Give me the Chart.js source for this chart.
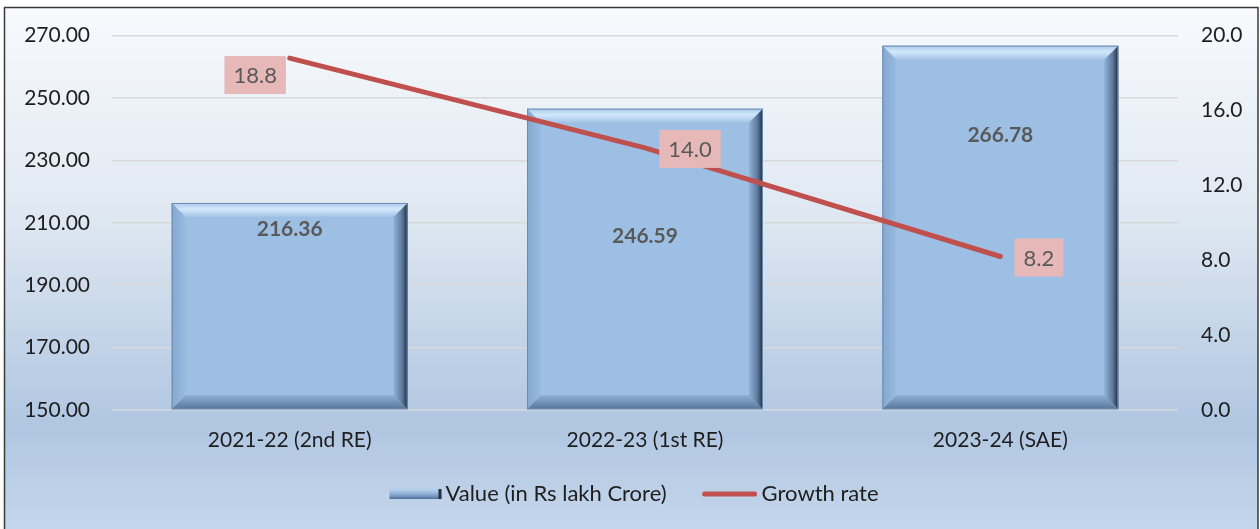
<!DOCTYPE html>
<html>
<head>
<meta charset="utf-8">
<script src="https://cdn.jsdelivr.net/npm/chart.js@4/dist/chart.umd.min.js"></script>
<style>
  html, body { margin: 0; padding: 0; background: #ffffff; }
  #wrap { position: absolute; left: 0; top: 0; width: 1260px; height: 529px; }
</style>
</head>
<body>
<div id="wrap"><canvas id="c" width="1260" height="529"></canvas></div>
<script>
const categories = ['2021-22 (2nd RE)', '2022-23 (1st RE)', '2023-24 (SAE)'];
const valueSeries = [216.36, 246.59, 266.78];
const growthSeries = [18.8, 14.0, 8.2];
const leftTicks = [150, 170, 190, 210, 230, 250, 270];
const rightTicks = [0, 4, 8, 12, 16, 20];
const seriesNames = ['Value (in Rs lakh Crore)', 'Growth rate'];

const FONT = 'Lato, "Open Sans", sans-serif';
const TXT = '#1e1e1e';
const LBL = '#595959';

const backgroundPlugin = {
  id: 'bg',
  beforeDraw(chart) {
    const ctx = chart.ctx;
    ctx.save();
    ctx.fillStyle = '#ffffff';
    ctx.fillRect(0, 0, chart.width, chart.height);
    const g = ctx.createLinearGradient(0, 7, 0, 529);
    g.addColorStop(0, '#f8fafd');
    g.addColorStop(0.4, '#dfe8f2');
    g.addColorStop(0.8, '#b0c6e1');
    g.addColorStop(1, '#c4d6eb');
    ctx.fillStyle = g;
    ctx.fillRect(5, 8, 1253, 530);
    ctx.strokeStyle = '#3a3a3a';
    ctx.lineWidth = 1.5;
    ctx.strokeRect(4.5, 7.5, 1253.5, 540);
    ctx.restore();
  }
};

function drawBevel(ctx, l, t, r, b, s) {
  let g = ctx.createLinearGradient(0, t, 0, t + s);
  g.addColorStop(0, '#a9c9ea');
  g.addColorStop(0.45, '#d2e8fb');
  g.addColorStop(1, '#a3c3e6');
  ctx.fillStyle = g;
  ctx.beginPath();
  ctx.moveTo(l, t); ctx.lineTo(r, t); ctx.lineTo(r - s, t + s); ctx.lineTo(l + s, t + s); ctx.closePath();
  ctx.fill();
  g = ctx.createLinearGradient(l, 0, l + s, 0);
  g.addColorStop(0, '#86a8d0');
  g.addColorStop(1, '#98bbe1');
  ctx.fillStyle = g;
  ctx.beginPath();
  ctx.moveTo(l, t); ctx.lineTo(l + s, t + s); ctx.lineTo(l + s, b - s); ctx.lineTo(l, b); ctx.closePath();
  ctx.fill();
  g = ctx.createLinearGradient(0, b - s, 0, b);
  g.addColorStop(0, '#8eafd5');
  g.addColorStop(1, '#58769a');
  ctx.fillStyle = g;
  ctx.beginPath();
  ctx.moveTo(l, b); ctx.lineTo(r, b); ctx.lineTo(r - s, b - s); ctx.lineTo(l + s, b - s); ctx.closePath();
  ctx.fill();
  g = ctx.createLinearGradient(r - s, 0, r, 0);
  g.addColorStop(0, '#90b1d7');
  g.addColorStop(0.6, '#5d7a9d');
  g.addColorStop(1, '#1f2b38');
  ctx.fillStyle = g;
  ctx.beginPath();
  ctx.moveTo(r, t); ctx.lineTo(r, b); ctx.lineTo(r - s, b - s); ctx.lineTo(r - s, t + s); ctx.closePath();
  ctx.fill();
  ctx.strokeStyle = '#6b8bb1';
  ctx.lineWidth = 1;
  ctx.strokeRect(l + 0.5, t + 0.5, r - l - 1, b - t - 1);
}

const bevelPlugin = {
  id: 'bevel',
  afterDatasetDraw(chart, args) {
    if (args.index !== 0) return;
    const ctx = chart.ctx;
    ctx.save();
    args.meta.data.forEach(bar => {
      const l = bar.x - bar.width / 2, r = bar.x + bar.width / 2;
      const t = bar.y, b = Math.min(bar.base, chart.chartArea.bottom);
      drawBevel(ctx, l, t, r, b, 14);
    });
    ctx.restore();
  }
};

const labelPlugin = {
  id: 'labels',
  afterDatasetsDraw(chart) {
    const ctx = chart.ctx;
    ctx.save();
    const barOffsets = [26, 128, 90];
    const barMeta = chart.getDatasetMeta(0);
    ctx.font = 'bold 21px ' + FONT;
    ctx.fillStyle = LBL;
    ctx.textAlign = 'center';
    ctx.textBaseline = 'middle';
    barMeta.data.forEach((bar, i) => {
      ctx.fillText(valueSeries[i].toFixed(2), bar.x, bar.y + barOffsets[i]);
    });
    const lineOffsets = [[-34.5, 17], [45, 1], [38.5, 1]];
    const lineMeta = chart.getDatasetMeta(1);
    ctx.font = '22px ' + FONT;
    lineMeta.data.forEach((pt, i) => {
      const txt = growthSeries[i].toFixed(1);
      const w = ctx.measureText(txt).width + 18;
      const h = 38;
      const cx = pt.x + lineOffsets[i][0], cy = pt.y + lineOffsets[i][1];
      ctx.fillStyle = '#e6b9b8';
      ctx.fillRect(cx - w / 2, cy - h / 2, w, h);
      ctx.fillStyle = LBL;
      ctx.fillText(txt, cx, cy + 1);
    });
    ctx.restore();
  }
};

const legendPlugin = {
  id: 'customLegend',
  afterDraw(chart) {
    const ctx = chart.ctx;
    ctx.save();
    ctx.font = '22px ' + FONT;
    ctx.textBaseline = 'middle';
    ctx.textAlign = 'left';
    const y = 494;
    const w1 = ctx.measureText(seriesNames[0]).width;
    const w2 = ctx.measureText(seriesNames[1]).width;
    const sw1 = 52, gap = 4, between = 35, sw2 = 56;
    const total = sw1 + gap + w1 + between + sw2 + gap + w2;
    let x = 634 - total / 2;
    let g = ctx.createLinearGradient(0, y - 5, 0, y + 5);
    g.addColorStop(0, '#b7d3f0');
    g.addColorStop(0.5, '#8eb0d6');
    g.addColorStop(1, '#52709a');
    ctx.fillStyle = g;
    ctx.fillRect(x, y - 5, sw1, 10);
    ctx.fillStyle = '#24313f';
    ctx.fillRect(x + sw1 - 3, y - 5, 3, 10);
    x += sw1 + gap;
    ctx.fillStyle = TXT;
    ctx.fillText(seriesNames[0], x, y);
    x += w1 + between;
    ctx.strokeStyle = '#c0504d';
    ctx.lineWidth = 5;
    ctx.lineCap = 'round';
    ctx.beginPath();
    ctx.moveTo(x + 3, y);
    ctx.lineTo(x + sw2 - 3, y);
    ctx.stroke();
    x += sw2 + gap;
    ctx.fillStyle = TXT;
    ctx.fillText(seriesNames[1], x, y);
    ctx.restore();
  }
};

new Chart(document.getElementById('c'), {
  data: {
    labels: categories,
    datasets: [
      {
        type: 'bar',
        label: seriesNames[0],
        data: valueSeries,
        yAxisID: 'y',
        base: 150,
        backgroundColor: '#9dbfe3',
        borderWidth: 0,
        barPercentage: 0.664,
        categoryPercentage: 1.0,
        order: 1
      },
      {
        type: 'line',
        label: seriesNames[1],
        data: growthSeries,
        yAxisID: 'y1',
        borderColor: '#c0504d',
        backgroundColor: '#c0504d',
        borderWidth: 5,
        borderCapStyle: 'round',
        pointRadius: 0,
        pointHoverRadius: 0,
        tension: 0,
        order: 0
      }
    ]
  },
  options: {
    responsive: false,
    animation: false,
    events: [],
    layout: { padding: { top: 31.4, bottom: 49, left: 0, right: 0 } },
    plugins: {
      legend: { display: false },
      tooltip: { enabled: false }
    },
    scales: {
      x: {
        grid: { display: false, drawTicks: false },
        border: { display: false },
        ticks: { color: TXT, font: { family: FONT, size: 21 }, padding: 18, maxRotation: 0 },
        afterFit(s) { s.height = 70; }
      },
      y: {
        position: 'left',
        min: 150, max: 270,
        afterBuildTicks(s) { s.ticks = leftTicks.map(v => ({ value: v })); },
        ticks: { color: TXT, font: { family: FONT, size: 21 }, padding: 22, callback: v => Number(v).toFixed(2) },
        grid: { color: '#d9d9d9', lineWidth: 1.5, drawTicks: false },
        border: { display: false },
        afterFit(s) { s.width = 112; }
      },
      y1: {
        position: 'right',
        min: 0, max: 20,
        afterBuildTicks(s) { s.ticks = rightTicks.map(v => ({ value: v })); },
        ticks: { color: TXT, font: { family: FONT, size: 21 }, padding: 23, callback: v => Number(v).toFixed(1) },
        grid: { display: false, drawTicks: false },
        border: { display: false },
        afterFit(s) { s.width = 82; }
      }
    }
  },
  plugins: [backgroundPlugin, bevelPlugin, labelPlugin, legendPlugin]
});
</script>
</body>
</html>
